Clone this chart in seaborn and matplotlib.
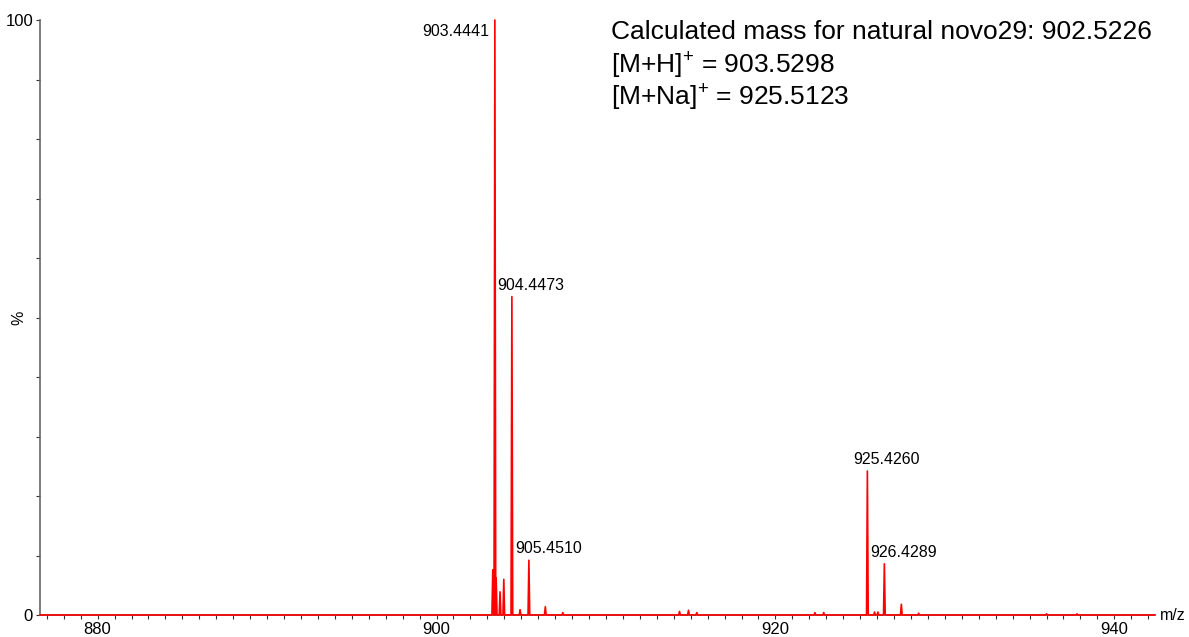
import numpy as np
import pandas as pd
import matplotlib
matplotlib.use("Agg")
import matplotlib.pyplot as plt
from matplotlib.ticker import MultipleLocator, FixedLocator
import seaborn as sns

# ---- data ----
labeled_mz = [903.4441, 904.4473, 905.4510, 925.4260, 926.4289]
labeled_int = [100.0, 53.5, 9.2, 24.2, 8.6]
labels = ["903.4441", "904.4473", "905.4510", "925.4260", "926.4289"]

minor_mz = [903.32, 903.52, 903.75, 903.97, 904.93, 906.42, 907.45,
            914.34, 914.87, 915.36, 922.33, 922.85, 925.85, 926.05,
            927.43, 928.45, 936.0, 937.8]
minor_int = [7.6, 6.2, 3.9, 6.0, 0.9, 1.4, 0.4,
             0.6, 0.8, 0.4, 0.4, 0.4, 0.5, 0.5,
             1.8, 0.3, 0.2, 0.2]

title_lines = ["Calculated mass for natural novo29: 902.5226",
               r"[M+H]$^{+}$ = 903.5298",
               r"[M+Na]$^{+}$ = 925.5123"]

x_min, x_max = 876.6, 942.4

# ---- build stick-profile trace from the peak lists ----
all_mz = np.array(labeled_mz + minor_mz)
all_int = np.array(labeled_int + minor_int)
hw = 0.05
xs = [x_min]
ys = [0.0]
for m, h in sorted(zip(all_mz, all_int)):
    xs += [m - hw, m, m + hw]
    ys += [0.0, h, 0.0]
xs.append(x_max)
ys.append(0.0)
df = pd.DataFrame({"mz": xs, "intensity": ys})

sns.set_theme(style="white")
plt.rcParams["font.family"] = ["Liberation Sans", "DejaVu Sans"]
plt.rcParams["mathtext.fontset"] = "custom"
plt.rcParams["mathtext.rm"] = "Liberation Sans"
plt.rcParams["text.color"] = "black"
plt.rcParams["axes.labelcolor"] = "black"

fig = plt.figure(figsize=(11.89, 6.37), dpi=100)
ax = fig.add_axes([40 / 1189, 1 - 615 / 637, (1155 - 40) / 1189, (615 - 20) / 637])

sns.lineplot(data=df, x="mz", y="intensity", ax=ax, color="#ff0000",
             linewidth=1.2, sort=False, estimator=None, zorder=5)
for ln in ax.lines:
    ln.set_clip_on(False)

ax.set_xlim(x_min, x_max)
ax.set_ylim(0, 100)

for s in ["top", "right"]:
    ax.spines[s].set_visible(False)
for s in ["left", "bottom"]:
    ax.spines[s].set_color("#666666")
    ax.spines[s].set_linewidth(1.2)

ax.xaxis.set_major_locator(FixedLocator([880, 900, 920, 940]))
ax.xaxis.set_minor_locator(MultipleLocator(1))
ax.yaxis.set_major_locator(FixedLocator([0, 100]))
ax.yaxis.set_minor_locator(MultipleLocator(10))
ax.tick_params(axis="both", which="both", direction="out", colors="#333333",
               labelcolor="black", labelsize=12, bottom=True, left=True)
ax.tick_params(axis="x", which="both", length=3, width=0.8, pad=2)
ax.tick_params(axis="y", which="both", length=3, width=0.8, pad=2)

ax.set_xlabel("")
ax.set_ylabel("%", fontsize=11.5, color="black")
ax.yaxis.set_label_coords(-0.012, 0.5)
ax.text(1.004, 0.0, "m/z", transform=ax.transAxes, fontsize=11.5,
        ha="left", va="center", color="black")

# peak labels
offsets = {
    "903.4441": (-6, -12, "right"),
    "904.4473": (-15, 4, "left"),
    "905.4510": (-14, 4, "left"),
    "925.4260": (-14, 4, "left"),
    "926.4289": (-14, 4, "left"),
}
for m, h, lab in zip(labeled_mz, labeled_int, labels):
    dx, dy, ha = offsets[lab]
    ax.annotate(lab, xy=(m, h), xytext=(dx, dy), textcoords="offset pixels",
                ha=ha, va="bottom" if ha == "left" else "center",
                fontsize=11.5, color="black", annotation_clip=False)

for i, line in enumerate(title_lines):
    fig.text(611 / 1189, 1 - (32 + i * 32) / 637, line, fontsize=19,
             ha="left", va="center", color="black")

fig.savefig("out.png", dpi=100)
